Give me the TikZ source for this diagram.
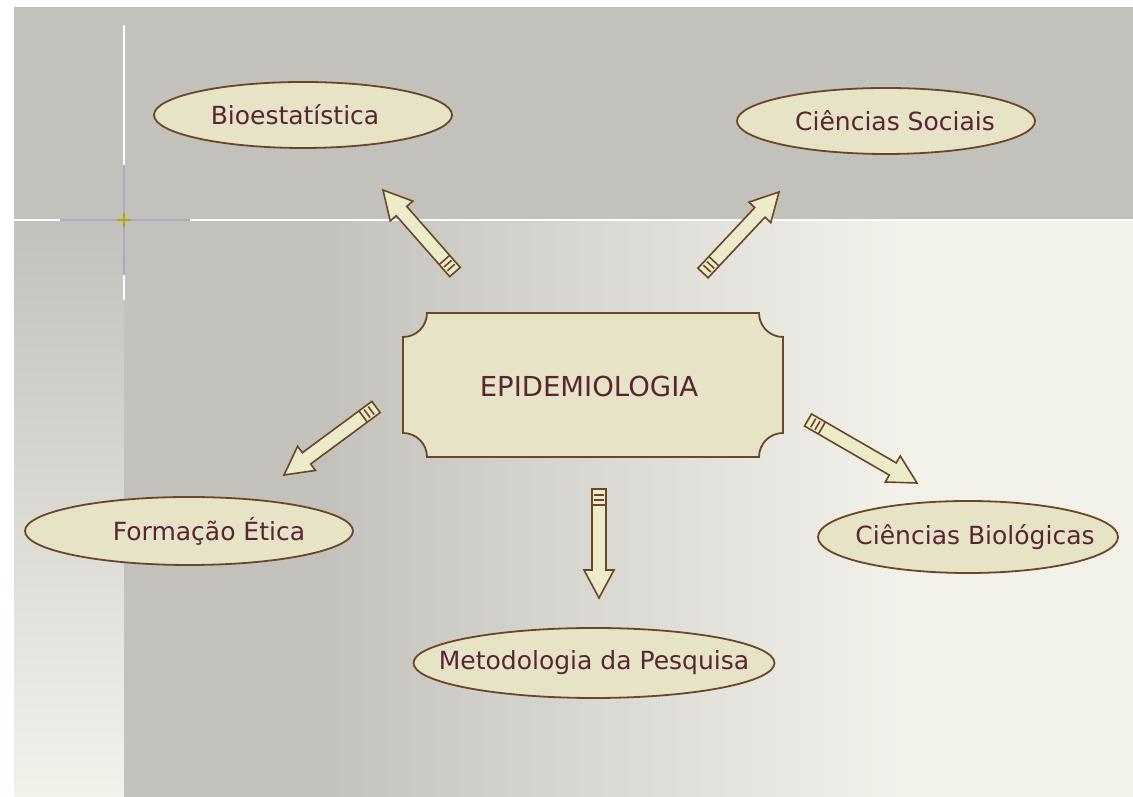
\documentclass[tikz,border=0pt]{standalone}
\usepackage{fontspec}
\newfontfamily\rotfont{DejaVu Sans}
\usetikzlibrary{shapes.geometric,calc}

\definecolor{fundo}{HTML}{C3C1BC}
\definecolor{fundoclaro}{HTML}{F2F1EA}
\definecolor{creme}{HTML}{E6E3C7}
\definecolor{setacreme}{HTML}{ECECCB}
\definecolor{marrom}{HTML}{6E4526}
\definecolor{vinho}{HTML}{5A2436}
\definecolor{linhaazul}{HTML}{A8ADC2}
\definecolor{cruz}{HTML}{B0A800}

\tikzset{
  tema/.style={ellipse, draw=marrom, line width=1.8pt, fill=creme, inner sep=0pt,
    text=vinho, font=\rotfont\fontsize{25}{30}\selectfont},
  seta/.style={draw=marrom, line width=1.6pt, fill=setacreme, line join=miter},
}

% seta larga: cauda (#1) -> ponta (#2)
\newcommand{\setalarga}[2]{%
  \coordinate (nk) at ($(#2)!28pt!(#1)$);
  \coordinate (cd) at ($(#1)!16pt!(#2)$);
  \draw[seta] ($(#1)!7pt!90:(#2)$) -- ($(nk)!7pt!90:(#2)$) -- ($(nk)!15pt!90:(#2)$)
     -- (#2) -- ($(nk)!15pt!-90:(#2)$) -- ($(nk)!7pt!-90:(#2)$) -- ($(#1)!7pt!-90:(#2)$) -- cycle;
  \draw[seta] ($(cd)!7pt!90:(#2)$) -- ($(cd)!7pt!-90:(#2)$);
  \draw[seta] ($($(#1)!6pt!(#2)$)!5pt!90:(#2)$) -- ($($(#1)!6pt!(#2)$)!5pt!-90:(#2)$);
  \draw[seta] ($($(#1)!11pt!(#2)$)!5pt!90:(#2)$) -- ($($(#1)!11pt!(#2)$)!5pt!-90:(#2)$);
}

\begin{document}
\begin{tikzpicture}[x=1pt, y=1pt]
  \useasboundingbox (0,0) rectangle (1133,797);

  % ------ fundo ------
  \fill[white] (0,0) rectangle (1133,797);
  \fill[fundo] (14,577) rectangle (1133,790);
  \shade[top color=fundo, bottom color=fundoclaro] (14,0) rectangle (124,577);
  \fill[fundo] (124,0) rectangle (320,577);
  \shade[left color=fundo, right color=fundoclaro] (320,0) rectangle (900,577);
  \fill[fundoclaro] (900,0) rectangle (1133,577);

  \draw[white, line width=1.5pt] (14,577) -- (1133,577);
  \draw[white, line width=1.5pt] (124,772) -- (124,497);
  \draw[linhaazul, line width=1.5pt] (60,577) -- (190,577);
  \draw[linhaazul, line width=1.5pt] (124,632) -- (124,522);
  \draw[cruz, line width=1.5pt] (117,577) -- (131,577) (124,570) -- (124,584);

  % ------ centro ------
  \coordinate (E1) at (403,340);
  \coordinate (E2) at (783,484);
  \draw[marrom, line width=1.8pt, fill=creme]
     ($(E1|-E2)+(24,0)$) -- ($(E2)+(-24,0)$)
     arc[start angle=180, end angle=270, radius=24] -- ($(E2|-E1)+(0,24)$)
     arc[start angle=90, end angle=180, radius=24] -- ($(E1)+(24,0)$)
     arc[start angle=0, end angle=90, radius=24] -- ($(E1|-E2)+(0,-24)$)
     arc[start angle=270, end angle=360, radius=24] -- cycle;
  \node (epi) [text=vinho, font=\rotfont\fontsize{27.5}{32}\selectfont] at (589,411) {EPIDEMIOLOGIA};

  % ------ temas ------
  \node (bio)   [tema, minimum width=298, minimum height=66] at (303,682) {\makebox[0pt]{\hspace{-16pt}Bioestatística}};
  \node (soc)   [tema, minimum width=298, minimum height=66] at (886,676) {\makebox[0pt]{\hspace{18pt}Ciências Sociais}};
  \node (etica) [tema, minimum width=328, minimum height=68] at (189,266) {\makebox[0pt]{\hspace{40pt}Formação Ética}};
  \node (metod) [tema, minimum width=361, minimum height=70] at (594,134) {\makebox[0pt]{Metodologia da Pesquisa}};
  \node (biol)  [tema, minimum width=300, minimum height=72] at (968,260) {\makebox[0pt]{\hspace{14pt}Ciências Biológicas}};

  % ------ setas ------
  \coordinate (T1) at (455,525); \coordinate (H1) at (383,607);
  \coordinate (T2) at (703,524); \coordinate (H2) at (779,605);
  \coordinate (T3) at (376,390); \coordinate (H3) at (284,322);
  \coordinate (T4) at (599,308); \coordinate (H4) at (599,199);
  \coordinate (T5) at (808,377); \coordinate (H5) at (917,314);

  \setalarga{T1}{H1}
  \setalarga{T2}{H2}
  \setalarga{T3}{H3}
  \setalarga{T4}{H4}
  \setalarga{T5}{H5}
\end{tikzpicture}
\end{document}
